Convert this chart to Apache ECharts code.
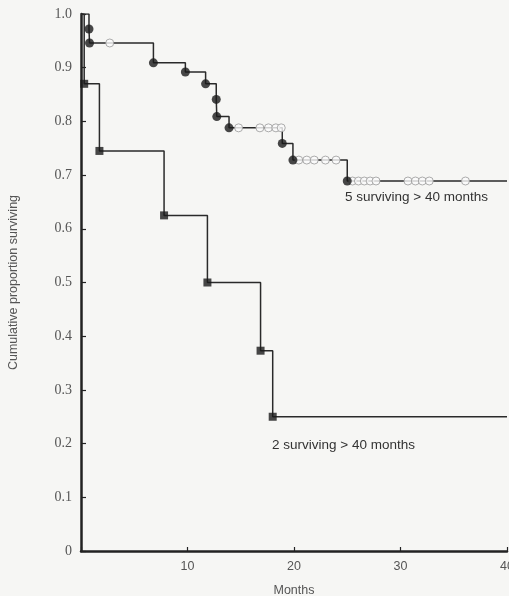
<!DOCTYPE html>
<html>
<head>
<meta charset="utf-8">
<script src="https://cdn.jsdelivr.net/npm/echarts@6/dist/echarts.min.js"></script>
<style>
html,body{margin:0;padding:0;background:#f6f6f4;}
#c{width:509px;height:596px;}
</style>
</head>
<body>
<div id="c"></div>
<script>
// Group A (circles): event times (months) and survival after each event
const eventMonthsA = [0.75, 0.8, 6.8, 9.8, 11.7, 12.7, 12.75, 13.9, 18.9, 19.9, 25.0];
const survivalA    = [0.972, 0.946, 0.909, 0.892, 0.870, 0.841, 0.809, 0.788, 0.759, 0.728, 0.689];
// Group A censored observations (open circles)
const censoredMonthsA = [2.7, 14.8, 16.8, 17.6, 18.3, 18.8, 20.45, 21.2, 21.9, 22.95, 23.95,
                         25.5, 26.05, 26.6, 27.15, 27.7, 30.7, 31.4, 32.05, 32.7, 36.1];
// Group B (squares): event times and survival after each event
const eventMonthsB = [0.3, 1.73, 7.8, 11.87, 16.86, 18.0];
const survivalB    = [0.870, 0.745, 0.625, 0.500, 0.373, 0.250];

const xTicks = [0, 10, 20, 30, 40];
const yTicks = [0, 0.1, 0.2, 0.3, 0.4, 0.5, 0.6, 0.7, 0.8, 0.9, 1.0];
const maxMonth = 40;
const noteA = '5 surviving > 40 months';
const noteB = '2 surviving > 40 months';

function stepLine(times, vals) {
  const pts = [[0, 1]];
  times.forEach((t, i) => pts.push([t, vals[i]]));
  pts.push([maxMonth, vals[vals.length - 1]]);
  return pts;
}
function levelAt(times, vals, t) {
  let v = 1;
  times.forEach((tt, i) => { if (tt <= t) v = vals[i]; });
  return v;
}

const chart = echarts.init(document.getElementById('c'));
const lineStyle = { color: '#2a2a2a', width: 1.5 };
chart.setOption({
  backgroundColor: '#f6f6f4',
  animation: false,
  grid: { left: 81, right: 2, top: 14, bottom: 45, containLabel: false, outerBoundsMode: 'none' },
  xAxis: {
    type: 'value', min: 0, max: 40, interval: 10,
    name: 'Months', nameLocation: 'middle', nameGap: 33,
    nameTextStyle: { fontFamily: 'Liberation Sans', fontSize: 12.5, color: '#555' },
    axisLine: { show: true, lineStyle: { color: '#222', width: 2.5 } },
    axisTick: { show: true, inside: true, length: 4, lineStyle: { color: '#222', width: 1.2 } },
    axisLabel: {
      margin: 9, fontFamily: 'Liberation Sans', fontSize: 12.5, color: '#555',
      formatter: v => (xTicks.includes(v) && v !== 0) ? String(v) : ''
    },
    splitLine: { show: false }
  },
  yAxis: {
    type: 'value', min: 0, max: 1, interval: 0.1,
    name: 'Cumulative proportion surviving', nameLocation: 'middle', nameGap: 61,
    nameTextStyle: { fontFamily: 'Liberation Sans', fontSize: 12.5, color: '#555' },
    axisLine: { show: true, lineStyle: { color: '#222', width: 2.5 } },
    axisTick: { show: true, inside: true, length: 5, lineStyle: { color: '#222', width: 1.2 } },
    axisLabel: {
      margin: 9, fontFamily: 'Liberation Serif', fontSize: 14, color: '#555',
      formatter: v => { const t = yTicks.find(y => Math.abs(y - v) < 1e-6); return t === 0 ? '0' : t.toFixed(1); }
    },
    splitLine: { show: false }
  },
  series: [
    { type: 'line', step: 'end', data: stepLine(eventMonthsA, survivalA),
      showSymbol: false, lineStyle: lineStyle, z: 2 },
    { type: 'line', step: 'end', data: stepLine(eventMonthsB, survivalB),
      showSymbol: false, lineStyle: lineStyle, z: 2 },
    { type: 'scatter', data: censoredMonthsA.map(t => [t, levelAt(eventMonthsA, survivalA, t)]),
      symbol: 'circle', symbolSize: 8,
      itemStyle: { color: '#fbfbfb', borderColor: '#999', borderWidth: 1 }, z: 3 },
    { type: 'scatter', data: eventMonthsA.map((t, i) => [t, survivalA[i]]),
      symbol: 'circle', symbolSize: 9, itemStyle: { color: '#1a1a1a' }, z: 4 },
    { type: 'scatter', data: eventMonthsB.map((t, i) => [t, survivalB[i]]),
      symbol: 'rect', symbolSize: 8, itemStyle: { color: '#1a1a1a' }, z: 4 }
  ],
  graphic: [
    { type: 'text', left: 345, top: 190,
      style: { text: noteA, font: '13.5px "Liberation Sans"', fill: '#333' } },
    { type: 'text', left: 272, top: 438,
      style: { text: noteB, font: '13.5px "Liberation Sans"', fill: '#333' } }
  ]
});
</script>
</body>
</html>
